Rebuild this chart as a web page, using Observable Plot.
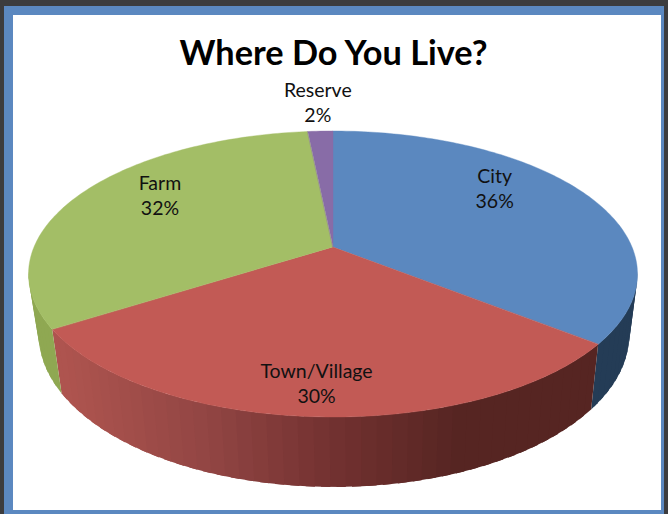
<!DOCTYPE html>
<html><head><meta charset="utf-8">
<script src="https://cdn.jsdelivr.net/npm/d3@7"></script>
<script src="https://cdn.jsdelivr.net/npm/@observablehq/plot@0.6"></script>
<style>
html,body{margin:0;padding:0;background:#3c3c3e;width:668px;height:514px;overflow:hidden}
#frame{position:absolute;left:4px;top:6px;width:660px;height:508px;box-sizing:border-box;background:#fff;
 border:solid #5b88c0;border-width:9px 3px 4px 9px}
#title{position:absolute;left:0;top:31px;width:667px;text-align:center;font:bold 34.3px Lato,Carlito,sans-serif;color:#000;margin:0}
#chart{position:absolute;left:0;top:0}
#chart svg{background:transparent;display:block}
</style></head><body>
<div id="frame"></div>
<h1 id="title">Where Do You Live?</h1>
<div id="chart"></div>
<script>
const categories = ["City", "Town/Village", "Farm", "Reserve"];
const shares = [35.7, 30.3, 32.4, 1.6];
const topColors = ["#5b88bf", "#c25a55", "#a3be66", "#886ca7"];
const sideColors = ["#243c56", null, "#8fa852", "#5f4b75"];
const labelRadius = [0.74, 0.84, 0.74, 1.3];
const labelTurn = [-12, 0.2, 6.6, 0];

// perspective view of the disc
const k = 0.1888;
const view = {top: {cx: 333, a: 299, b: 137.9, y0: 247}, low: {cx: 334, a: 290, b: 147, y0: 305.8}};
const project = (deg, r, p) => {
  const t = deg * Math.PI / 180, u = r * Math.sin(t), v = -r * Math.cos(t), d = 1 - k * v;
  return [p.cx + p.a * u / d, p.y0 + p.b * v / d];
};
const redShade = d3.scaleLinear().domain([61, 200, 334, 460]).range(["#ae544f", "#934644", "#723130", "#562522"]).clamp(true);

const total = d3.sum(shares);
let acc = 0;
const slices = categories.map((name, i) => {
  const start = acc / total * 360; acc += shares[i];
  return {name, i, start, end: acc / total * 360, pct: Math.round(shares[i] / total * 100)};
});

// only the near part of the rim shows a side wall
const wallFrom = 100, wallTo = 260;
const fan = [], strips = [];
for (const s of slices) {
  const n = Math.max(2, Math.ceil(s.end - s.start));
  for (let j = 0; j <= n; j++) {
    const deg = s.start + (s.end - s.start) * j / n;
    const [x, y] = project(deg, 1, view.top);
    fan.push({key: s.name, color: topColors[s.i], x1: view.top.cx, y1: view.top.y0, x2: x, y2: y});
  }
  const lo = Math.max(s.start, wallFrom), hi = Math.min(s.end, wallTo);
  if (hi <= lo) continue;
  const step = 2.5;
  const m = Math.ceil((hi - lo) / step);
  for (let j = 0; j < m; j++) {
    const a = lo + (hi - lo) * j / m;
    const b = Math.min(hi, lo + (hi - lo) * (j + 1.6) / m);   // overlaps the next band, which paints over it
    const [ax, ay] = project(a, 1, view.top), [bx, by] = project(b, 1, view.top);
    const [cx, cy] = project(a, 1, view.low), [dx, dy] = project(b, 1, view.low);
    const mid = project(a + (hi - lo) / m / 2, 1, view.top)[0];
    const color = sideColors[s.i] || d3.color(redShade(mid)).formatHex();
    const key = s.name + j;
    strips.push({key, color, x1: ax, y1: ay, x2: cx, y2: cy}, {key, color, x1: bx, y1: by, x2: dx, y2: dy});
  }
}
const labels = slices.map(s => {
  const [x, y] = project((s.start + s.end) / 2 + labelTurn[s.i], labelRadius[s.i], view.top);
  return {x, y, text: `${s.name}\n${s.pct}%`};
});

const chart = Plot.plot({
  width: 668, height: 514, margin: 0,
  x: {domain: [0, 668], range: [0, 668], axis: null},
  y: {domain: [0, 514], range: [0, 514], axis: null},
  color: {type: "identity"},
  style: {background: "transparent"},
  marks: [
    Plot.area(strips, {x1: "x1", y1: "y1", x2: "x2", y2: "y2", z: "key", fill: "color"}),
    Plot.area(fan, {x1: "x1", y1: "y1", x2: "x2", y2: "y2", z: "key", fill: "color", stroke: "color", strokeWidth: 0.4}),
    Plot.text(labels, {x: "x", y: "y", dy: -2, text: "text", fontSize: 19.5, lineHeight: 1.28, lineAnchor: "middle",
      fontFamily: "Lato, Carlito, sans-serif", fill: "#111"})
  ]
});
document.getElementById("chart").append(chart);
</script>
</body></html>
